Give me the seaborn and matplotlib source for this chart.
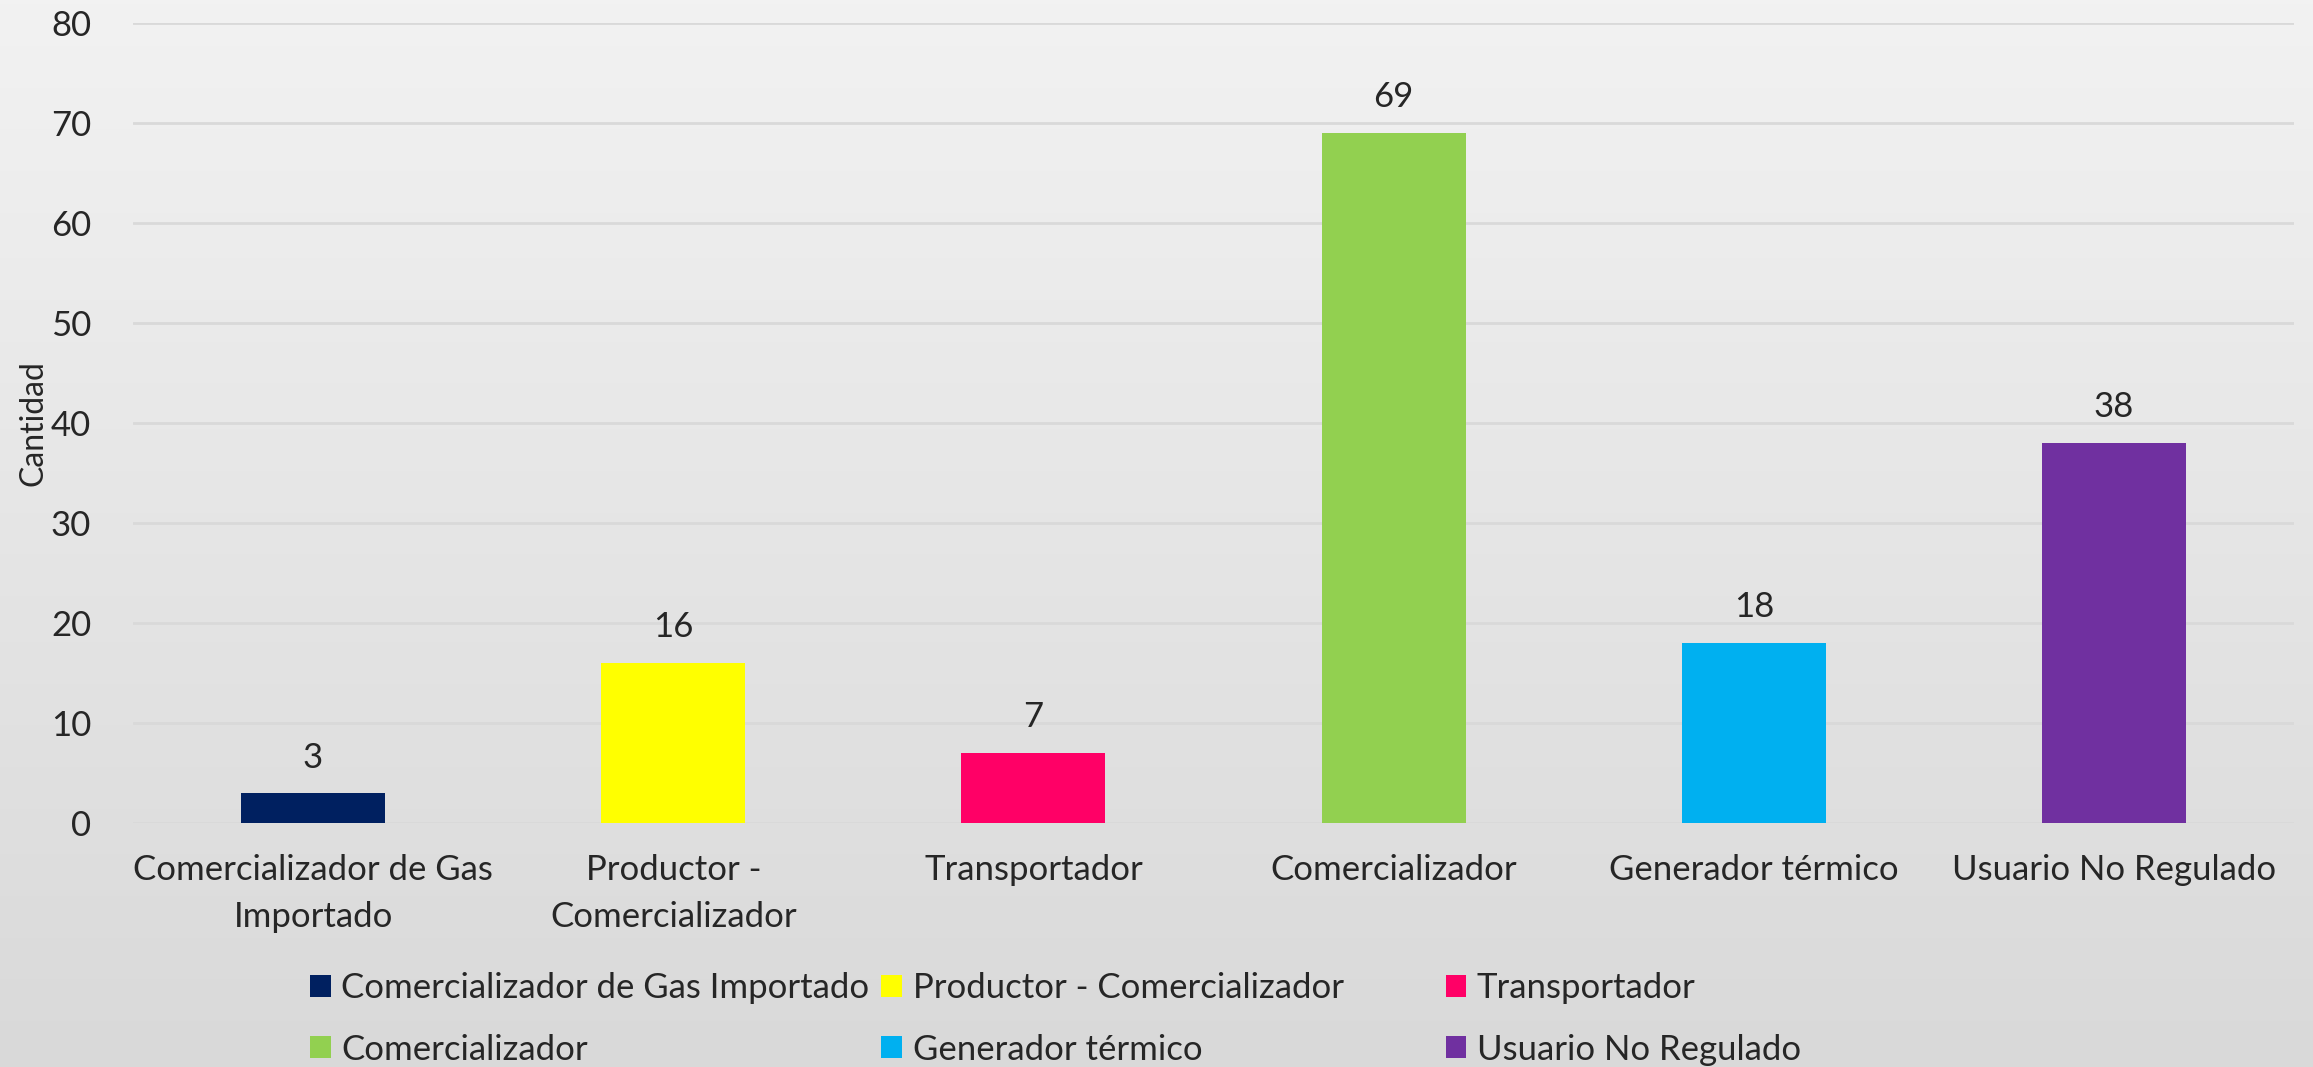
import numpy as np
import pandas as pd
import matplotlib
matplotlib.use("Agg")
import matplotlib.pyplot as plt
import seaborn as sns
from matplotlib.patches import Patch

# data
categorias = [
    "Comercializador de Gas Importado",
    "Productor - Comercializador",
    "Transportador",
    "Comercializador",
    "Generador térmico",
    "Usuario No Regulado",
]
etiquetas_x = [
    "Comercializador de Gas\nImportado",
    "Productor -\nComercializador",
    "Transportador",
    "Comercializador",
    "Generador térmico",
    "Usuario No Regulado",
]
cantidad = [3, 16, 7, 69, 18, 38]
colores = ["#002060", "#FFFF00", "#FF0066", "#92D050", "#00B0F0", "#7030A0"]

df = pd.DataFrame({"categoria": categorias, "cantidad": cantidad})

sns.set_style("white")
plt.rcParams["font.family"] = ["Lato", "DejaVu Sans"]
fs = 25

fig = plt.figure(figsize=(23.13, 10.67), dpi=100)

# gradient background over the whole figure
bg = fig.add_axes([0, 0, 1, 1], zorder=-10)
grad = np.linspace(0, 1, 256).reshape(-1, 1)
cmap = matplotlib.colors.LinearSegmentedColormap.from_list("bg", ["#F2F2F2", "#D9D9D9"])
bg.imshow(grad, aspect="auto", cmap=cmap, extent=[0, 1, 0, 1])
bg.axis("off")

ax = fig.add_axes([0.0575, 0.2287, 0.9343, 0.7502])
ax.set_facecolor("none")

sns.barplot(data=df, x="categoria", y="cantidad", hue="categoria",
            palette=colores, width=0.4, legend=False, ax=ax, saturation=1,
            edgecolor="none", linewidth=0)

for i, v in enumerate(cantidad):
    ax.annotate(str(v), (i, v), xytext=(0, 14), textcoords="offset points",
                ha="center", va="bottom", fontsize=fs)

ax.set_ylim(0, 80)
ax.set_yticks(range(0, 81, 10))
ax.set_xlim(-0.5, 5.5)
ax.yaxis.grid(True, color="#D9D9D9", linewidth=2)
ax.set_axisbelow(True)
for s in ax.spines.values():
    s.set_visible(False)
ax.set_xticks(range(6))
ax.set_xticklabels(etiquetas_x, fontsize=fs, linespacing=1.6)
ax.tick_params(axis="y", labelsize=fs, length=0, pad=30)
ax.tick_params(axis="x", length=0, pad=22)
ax.set_xlabel("")
ax.set_ylabel("Cantidad", fontsize=fs - 2)
ax.yaxis.set_label_coords(-0.039, 0.5)

# legend: 3 columns of 2 rows, equal column widths
handles = [Patch(facecolor=c, edgecolor="none") for c in colores]
xs = [0.134, 0.381, 0.625]
for k in range(3):
    idx = [k, k + 3]
    fig.legend([handles[j] for j in idx], [categorias[j] for j in idx],
               loc="upper left", bbox_to_anchor=(xs[k], 0.089),
               frameon=False, fontsize=fs, handlelength=0.6,
               handleheight=0.6, handletextpad=0.3, labelspacing=0.85,
               borderaxespad=0, borderpad=0)

fig.savefig("out.png", dpi=100)
